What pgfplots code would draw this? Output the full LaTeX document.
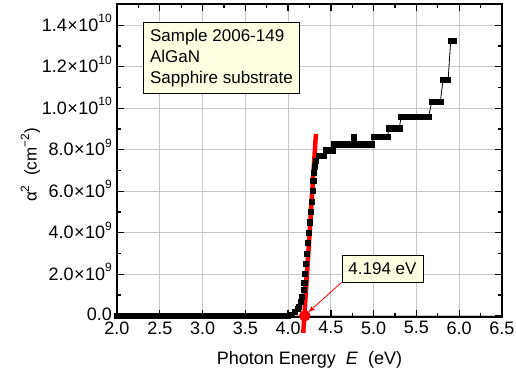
\documentclass[border=0pt]{standalone}
\usepackage{pgfplots}
\pgfplotsset{compat=1.18}
\usepackage{fontspec}
\setmainfont{Liberation Sans}
\usetikzlibrary{arrows.meta}
\newcommand{\f}{\fontsize{17bp}{21bp}\selectfont}
\newcommand{\ft}{\fontsize{18bp}{21bp}\selectfont}
\newcommand{\spr}[1]{\raisebox{8.5bp}[0pt][0pt]{\fontsize{12bp}{12bp}\selectfont #1}}
\newcommand{\tl}[2]{#1\kern0.5bp×\kern0.5bp10\spr{#2}}
\definecolor{boxy}{RGB}{255,255,225}
\begin{document}
\begin{tikzpicture}
\begin{axis}[
  at={(0,0)}, anchor=south west,
  scale only axis, width=385bp, height=312.3bp,
  xmin=2, xmax=6.5, ymin=-5e7, ymax=1.5e10,
  xtick={2,2.5,3,3.5,4,4.5,5,5.5,6,6.5}, minor x tick num=1,
  ytick={0,2e9,4e9,6e9,8e9,1e10,1.2e10,1.4e10}, minor y tick num=1,
  yticklabels={\raisebox{2.5bp}{0.0},\tl{2.0}{9},\tl{4.0}{9},\tl{6.0}{9},\tl{8.0}{9},\tl{1.0}{10},\tl{1.2}{10},\tl{1.4}{10}},
  scaled y ticks=false,
  /pgf/number format/assume math mode=true,
  xticklabel style={/pgf/number format/fixed, /pgf/number format/fixed zerofill, /pgf/number format/precision=1, inner sep=2bp, yshift=-2.5bp},
  yticklabel style={inner sep=2bp, xshift=-3bp},
  tick align=inside,
  major tick length=7bp, minor tick length=4bp,
  every tick/.append style={black, line width=1.3bp},
  axis line style={line width=2bp},
  grid=major, major grid style={gray!45, line width=0.8bp},
  tick label style={font=\ft},
  label style={font=\f},
  xlabel={\fontsize{18bp}{21bp}\selectfont Photon Energy~~\textit{E}~~(eV)},
  xlabel style={at={(axis description cs:0.5,-0.1537)}, anchor=base},
  ylabel={α\raisebox{7.5bp}{\fontsize{12bp}{12bp}\selectfont 2}~~(cm\raisebox{7.5bp}{\fontsize{12bp}{12bp}\selectfont −2})},
  ylabel style={at={(axis description cs:-0.225,0.486)}, anchor=center},
  clip=false,
]
\addplot[black, line width=0.8bp, mark=square*, mark size=2.6bp, mark options={solid, fill=black}] coordinates {
(2.00,0) (2.04,0) (2.08,0) (2.12,0) (2.16,0) (2.20,0) (2.24,0) (2.28,0) (2.32,0) (2.36,0)
(2.40,0) (2.44,0) (2.48,0) (2.52,0) (2.56,0) (2.60,0) (2.64,0) (2.68,0) (2.72,0) (2.76,0)
(2.80,0) (2.84,0) (2.88,0) (2.92,0) (2.96,0) (3.00,0) (3.04,0) (3.08,0) (3.12,0) (3.16,0)
(3.20,0) (3.24,0) (3.28,0) (3.32,0) (3.36,0) (3.40,0) (3.44,0) (3.48,0) (3.52,0) (3.56,0)
(3.60,0) (3.64,0) (3.68,0) (3.72,0) (3.76,0) (3.80,0) (3.84,0) (3.88,0) (3.92,0) (3.96,0)
(4.00,0.01e9) (4.04,0.04e9) (4.08,0.2e9) (4.11,0.32e9) (4.13,0.44e9) (4.15,0.65e9)
(4.165,0.92e9) (4.18,1.25e9) (4.19,1.6e9) (4.20,2.0e9) (4.21,2.5e9) (4.222,3.0e9)
(4.233,3.5e9) (4.245,4.0e9) (4.256,4.5e9) (4.266,5.0e9) (4.276,5.5e9) (4.286,6.0e9)
(4.295,6.5e9) (4.303,6.9e9) (4.312,7.2e9) (4.325,7.45e9)
(4.36,7.7e9) (4.38,7.7e9) (4.40,7.7e9) (4.42,7.7e9)
(4.44,7.97e9) (4.46,7.97e9) (4.48,7.97e9) (4.50,7.97e9) (4.52,7.97e9)
(4.54,8.26e9) (4.56,8.26e9) (4.58,8.26e9) (4.60,8.26e9) (4.62,8.26e9) (4.64,8.26e9)
(4.66,8.26e9) (4.68,8.26e9) (4.70,8.26e9) (4.72,8.26e9) (4.74,8.26e9) (4.77,8.6e9)
(4.80,8.26e9) (4.82,8.26e9) (4.84,8.26e9) (4.86,8.26e9) (4.88,8.26e9) (4.90,8.26e9)
(4.92,8.26e9) (4.94,8.26e9) (4.96,8.26e9) (4.98,8.26e9)
(5.00,8.63e9) (5.02,8.63e9) (5.04,8.63e9) (5.06,8.63e9) (5.08,8.63e9) (5.10,8.63e9)
(5.12,8.63e9) (5.14,8.63e9) (5.16,8.63e9)
(5.18,9.03e9) (5.20,9.03e9) (5.22,9.03e9) (5.24,9.03e9) (5.26,9.03e9) (5.28,9.03e9) (5.30,9.03e9)
(5.32,9.58e9) (5.34,9.58e9) (5.36,9.58e9) (5.38,9.58e9) (5.40,9.58e9) (5.42,9.58e9)
(5.44,9.58e9) (5.46,9.58e9) (5.48,9.58e9) (5.50,9.58e9) (5.52,9.58e9) (5.54,9.58e9)
(5.56,9.58e9) (5.58,9.58e9) (5.60,9.58e9) (5.62,9.58e9) (5.64,9.58e9)
(5.68,10.32e9) (5.70,10.32e9) (5.72,10.32e9) (5.74,10.32e9) (5.76,10.32e9) (5.78,10.32e9)
(5.81,11.35e9) (5.83,11.35e9) (5.85,11.35e9) (5.87,11.35e9)
(5.90,13.23e9) (5.92,13.23e9) (5.94,13.23e9)
};
\addplot[red, line width=4.5bp] coordinates {(4.177,-0.83e9) (4.325,8.76e9)};
\addplot[only marks, mark=*, red, mark size=5.5bp] coordinates {(4.194,0)};
\node[draw=black, line width=0.8bp, fill=boxy, anchor=north west, minimum width=156bp, minimum height=71bp, align=left, inner xsep=6bp, font=\f] at (axis cs:2.304,1.416e10) {Sample 2006-149\\AlGaN\\Sapphire substrate};
\node[draw=black, line width=0.8bp, fill=boxy, minimum width=81bp, minimum height=27bp, inner sep=0pt, font=\f] (lab) at (axis cs:5.103,2.28e9) {4.194 eV};
\draw[red, line width=0.8bp, -{Stealth[length=7bp,width=5bp]}] (lab.south west) -- (axis cs:4.24,0.18e9);
\end{axis}
\pgfresetboundingbox
\path[use as bounding box] (-117bp,-53.2bp) rectangle (399bp,316.8bp);
\end{tikzpicture}
\end{document}
